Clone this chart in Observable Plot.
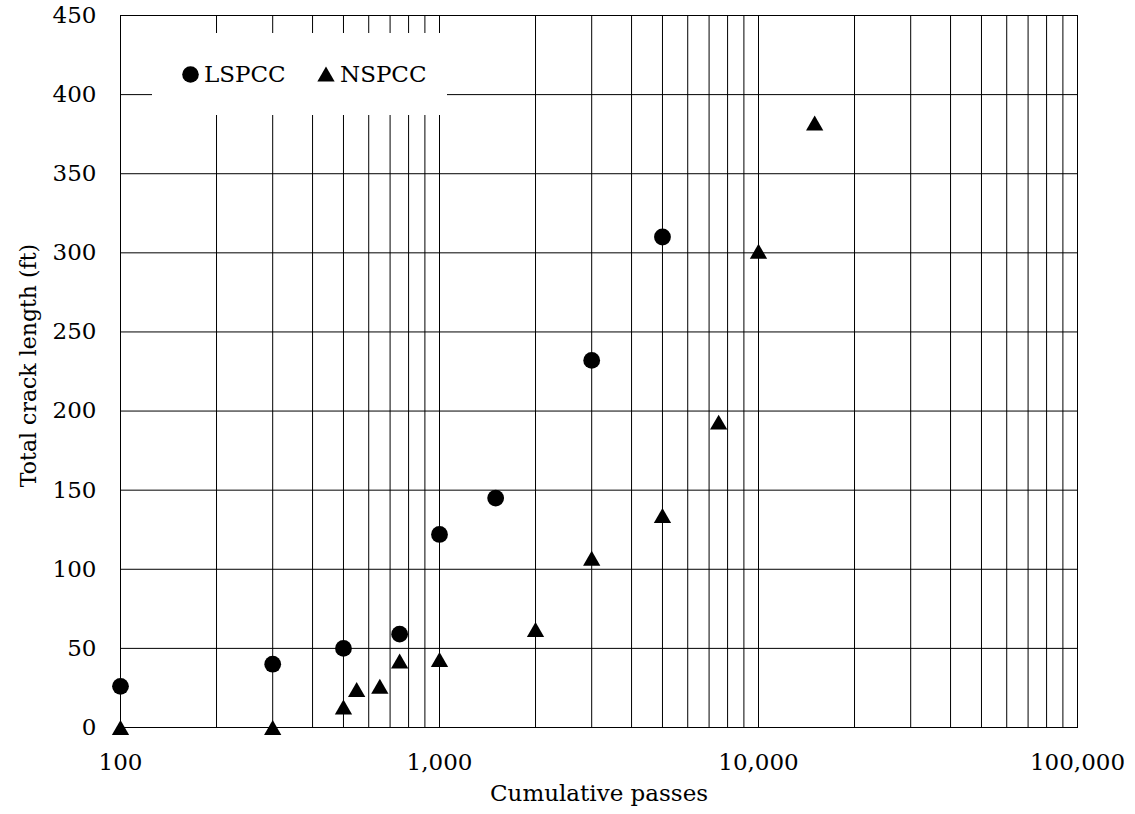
<!DOCTYPE html>
<html>
<head>
<meta charset="utf-8">
<script src="https://cdn.jsdelivr.net/npm/d3@7"></script>
<script src="https://cdn.jsdelivr.net/npm/@observablehq/plot@0.6"></script>
<style>
  html, body { margin: 0; padding: 0; background: #fff; }
  #wrap { position: relative; width: 1135px; height: 814px; }
  #legend {
    position: absolute; left: 152px; top: 33px; width: 295px; height: 82px;
    background: #fff; font-family: "DejaVu Serif", serif; font-size: 23px; color: #000;
  }
  #legend .item { position: absolute; top: 0; height: 82px; display: flex; align-items: center; }
  #legend svg { margin-right: 5px; }
</style>
</head>
<body>
<div id="wrap"></div>
<script>
// ---- data ----
const lspccPasses = [100, 300, 500, 750, 1000, 1500, 3000, 5000];
const lspccLength = [26, 40, 50, 59, 122, 145, 232, 310];

const nspccPasses = [100, 300, 500, 550, 650, 750, 1000, 2000, 3000, 5000, 7500, 10000, 15000];
const nspccLength = [0, 0, 13, 24, 26, 42, 43, 62, 107, 134, 193, 301, 382];

const seriesNames = ["LSPCC", "NSPCC"];
const xTickValues = [100, 1000, 10000, 100000];
const yTickValues = [0, 50, 100, 150, 200, 250, 300, 350, 400, 450];
const xLabel = "Cumulative passes";
const yLabel = "Total crack length (ft)";

// ---- build tables ----
const lspcc = lspccPasses.map((p, i) => ({passes: p, length: lspccLength[i]}));
const nspcc = nspccPasses.map((p, i) => ({passes: p, length: nspccLength[i]}));

// log grid lines: 1..9 in every decade
const decades = [100, 1000, 10000];
const xGrid = decades.flatMap(d => d3.range(1, 10).map(k => k * d)).concat([100000]);

// triangle centered on its bounding box
const triangle = {
  draw(ctx, size) {
    const a = Math.sqrt(size / (Math.sqrt(3) / 4));
    const h = a * Math.sqrt(3) / 2;
    ctx.moveTo(0, -h / 2);
    ctx.lineTo(a / 2, h / 2);
    ctx.lineTo(-a / 2, h / 2);
    ctx.closePath();
  }
};

const font = "DejaVu Serif";

const chart = Plot.plot({
  width: 1135,
  height: 814,
  marginLeft: 120,
  marginRight: 58,
  marginTop: 15,
  marginBottom: 87,
  style: {fontFamily: font, fontSize: "23px", background: "#fff", color: "#000"},
  x: {type: "log", domain: [100, 100000]},
  y: {domain: [0, 450]},
  marks: [
    Plot.ruleX(xGrid, {stroke: "#000", strokeWidth: 1}),
    Plot.ruleY(yTickValues, {stroke: "#000", strokeWidth: 1}),
    Plot.frame({stroke: "#000", strokeWidth: 1}),
    Plot.axisX(xTickValues, {tickSize: 0, tickPadding: 26, tickFormat: d3.format(","), fontSize: 23, label: null}),
    Plot.axisY(yTickValues, {tickSize: 0, tickPadding: 24, fontSize: 23, label: null}),
    Plot.dot(lspcc, {x: "passes", y: "length", r: 8.4, fill: "#000", stroke: "none", symbol: "circle"}),
    Plot.dot(nspcc, {x: "passes", y: "length", r: 6.42, fill: "#000", stroke: "none", symbol: triangle}),
    Plot.text([xLabel], {frameAnchor: "bottom", dy: 73, fontSize: 23, fill: "#000"}),
    Plot.text([yLabel], {frameAnchor: "left", textAnchor: "middle", dx: -92, dy: -6, rotate: -90, fontSize: 22, fill: "#000"})
  ]
});

const wrap = document.getElementById("wrap");
wrap.appendChild(chart);

// legend (drawn over the grid, white background as in the original)
const legend = document.createElement("div");
legend.id = "legend";
const circleSvg = `<svg width="17" height="17" viewBox="-8.5 -8.5 17 17"><circle r="8.3" fill="#000"/></svg>`;
const triSvg = `<svg width="18" height="16" viewBox="-9 -8 18 16"><path d="M0,-7.5L8.65,7.5L-8.65,7.5Z" fill="#000"/></svg>`;
legend.innerHTML =
  `<div class="item" style="left:30px">${circleSvg}<span>${seriesNames[0]}</span></div>` +
  `<div class="item" style="left:165px">${triSvg}<span>${seriesNames[1]}</span></div>`;
wrap.appendChild(legend);
</script>
</body>
</html>
